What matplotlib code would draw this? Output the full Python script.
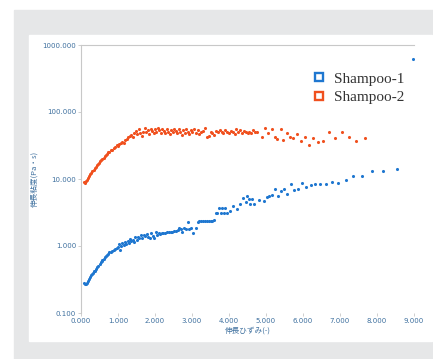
import numpy as np
import matplotlib.pyplot as plt
from matplotlib.patches import Rectangle
from matplotlib.lines import Line2D

# Shampoo-1 (blue)
s1_x = [0.08, 0.11, 0.14, 0.17, 0.20, 0.22, 0.25, 0.28, 0.30, 0.33, 0.36, 0.38, 0.41, 0.44,
        0.47, 0.50, 0.53, 0.56, 0.58, 0.61, 0.64, 0.67, 0.70, 0.73, 0.77, 0.80, 0.84, 0.88,
        0.92, 0.96, 1.00, 1.03, 1.05, 1.08, 1.12, 1.15, 1.19, 1.22, 1.26, 1.30, 1.33, 1.36,
        1.40, 1.43, 1.47, 1.50, 1.54, 1.58, 1.62, 1.66, 1.70, 1.74, 1.78, 1.82, 1.86, 1.90,
        1.94, 1.98, 2.02, 2.06, 2.10, 2.14, 2.18, 2.22, 2.27, 2.32, 2.37, 2.42, 2.47, 2.52,
        2.57, 2.62, 2.66, 2.70, 2.74, 2.78, 2.83, 2.88, 2.93, 2.98, 3.04, 3.10, 3.16, 3.20,
        3.25, 3.30, 3.35, 3.40, 3.45, 3.50, 3.55, 3.60, 3.64, 3.68, 3.72, 3.78, 3.80, 3.86,
        3.90, 3.95, 4.03, 4.12, 4.22, 4.30, 4.38, 4.45, 4.49, 4.53, 4.57, 4.62, 4.68, 4.81,
        4.95, 5.03, 5.08, 5.16, 5.24, 5.32, 5.41, 5.49, 5.57, 5.68, 5.76, 5.86, 5.97, 6.08,
        6.22, 6.32, 6.46, 6.62, 6.78, 6.95, 7.16, 7.35, 7.59, 7.86, 8.16, 8.54, 8.97]
s1_y = [0.28, 0.27, 0.27, 0.28, 0.30, 0.32, 0.34, 0.37, 0.38, 0.40, 0.42, 0.43, 0.46, 0.48,
        0.51, 0.53, 0.57, 0.60, 0.62, 0.64, 0.68, 0.70, 0.73, 0.76, 0.80, 0.82, 0.85, 0.87,
        0.90, 0.94, 0.98, 1.08, 0.86, 1.00, 1.12, 1.04, 1.16, 1.06, 1.18, 1.10, 1.28, 1.20,
        1.24, 1.14, 1.36, 1.25, 1.38, 1.30, 1.45, 1.32, 1.48, 1.42, 1.50, 1.38, 1.30, 1.55,
        1.42, 1.33, 1.60, 1.45, 1.58, 1.52, 1.55, 1.57, 1.58, 1.60, 1.62, 1.63, 1.64, 1.66,
        1.68, 1.72, 1.88, 1.78, 1.62, 1.85, 1.80, 2.30, 1.82, 1.86, 1.58, 1.88, 2.30, 2.34,
        2.35, 2.36, 2.36, 2.37, 2.37, 2.38, 2.40, 2.45, 3.10, 3.10, 3.70, 3.10, 3.70, 3.10,
        3.70, 3.10, 3.30, 3.90, 3.60, 4.20, 5.20, 4.60, 5.60, 5.00, 4.30, 5.00, 4.30, 4.80,
        4.70, 5.40, 5.60, 5.80, 7.10, 5.60, 6.60, 7.10, 6.00, 8.50, 6.80, 7.10, 8.70, 7.70,
        8.20, 8.50, 8.40, 8.40, 9.10, 8.70, 9.60, 11.0, 11.0, 13.2, 13.2, 14.2, 616.0]

# Shampoo-2 (orange)
s2_x = [0.08, 0.10, 0.13, 0.16, 0.19, 0.22, 0.25, 0.28, 0.31, 0.34, 0.37, 0.40, 0.43, 0.46,
        0.49, 0.52, 0.55, 0.58, 0.61, 0.64, 0.67, 0.70, 0.73, 0.76, 0.80, 0.84, 0.88, 0.92,
        0.96, 1.00, 1.04, 1.08, 1.12, 1.16, 1.20, 1.24, 1.28, 1.32, 1.36, 1.40, 1.44, 1.48,
        1.52, 1.56, 1.60, 1.64, 1.68, 1.72, 1.76, 1.80, 1.84, 1.88, 1.92, 1.96, 2.00, 2.04,
        2.08, 2.12, 2.16, 2.20, 2.24, 2.28, 2.32, 2.36, 2.40, 2.44, 2.48, 2.52, 2.56, 2.60,
        2.64, 2.68, 2.72, 2.76, 2.80, 2.84, 2.88, 2.92, 2.96, 3.00, 3.05, 3.10, 3.15, 3.20,
        3.25, 3.30, 3.35, 3.40, 3.45, 3.50, 3.55, 3.60, 3.65, 3.70, 3.75, 3.80, 3.85, 3.90,
        3.95, 4.00, 4.05, 4.10, 4.15, 4.20, 4.25, 4.30, 4.35, 4.40, 4.45, 4.50, 4.55, 4.60,
        4.65, 4.70, 4.76, 4.89, 4.97, 5.05, 5.16, 5.24, 5.30, 5.41, 5.46, 5.57, 5.65, 5.73,
        5.84, 5.95, 6.05, 6.16, 6.27, 6.41, 6.54, 6.70, 6.86, 7.05, 7.24, 7.43, 7.68]
s2_y = [9.0, 8.6, 9.4, 9.8, 10.5, 11.2, 11.8, 12.5, 13.0, 13.6, 14.5, 15.0, 16.0, 16.5,
        17.5, 18.5, 19.0, 20.0, 20.5, 22.0, 22.5, 24.0, 25.0, 25.5, 27.0, 27.5, 29.0, 30.0,
        32.0, 31.0, 33.0, 34.0, 36.0, 35.0, 38.0, 40.0, 42.0, 44.0, 46.0, 42.0, 48.0, 52.0,
        47.0, 55.0, 48.0, 44.0, 50.0, 58.0, 50.0, 54.0, 47.0, 56.0, 52.0, 48.0, 55.0, 51.0,
        57.0, 53.0, 49.0, 56.0, 52.0, 48.0, 55.0, 51.0, 47.0, 54.0, 50.0, 56.0, 52.0, 48.0,
        55.0, 51.0, 46.0, 53.0, 49.0, 56.0, 51.0, 47.0, 54.0, 50.0, 55.0, 49.0, 53.0, 47.0,
        51.0, 52.0, 58.0, 42.0, 44.0, 50.0, 48.0, 46.0, 52.0, 50.0, 53.0, 51.0, 49.0, 53.0,
        50.0, 48.0, 52.0, 51.0, 47.0, 55.0, 50.0, 53.0, 48.0, 52.0, 50.0, 49.0, 51.0, 49.0,
        53.0, 50.0, 51.0, 42.0, 58.0, 48.0, 56.0, 42.0, 39.0, 56.0, 38.0, 48.0, 42.0, 41.0,
        47.0, 37.0, 42.0, 32.0, 41.0, 36.0, 37.0, 50.0, 41.0, 50.0, 42.0, 37.0, 41.0]

labels = ['Shampoo-1', 'Shampoo-2']
colors = ['#1f77d0', '#f0501e']
x_ticks = [0, 1, 2, 3, 4, 5, 6, 7, 8, 9]
y_ticks = [0.1, 1, 10, 100, 1000]

tick_color = '#3d6f9e'
spine_color = '#c8c8c8'

fig = plt.figure(figsize=(4.33, 3.59), dpi=100)
W, H = 433, 359
# grey frame and white panel behind the chart
fig.patches.append(Rectangle((14 / W, 0), (433 - 14) / W, (359 - 10) / H,
                             transform=fig.transFigure, color='#e6e7e8', zorder=-2))
fig.patches.append(Rectangle((29 / W, 1 - 341 / H), (432 - 29) / W, (341 - 35) / H,
                             transform=fig.transFigure, color='white', zorder=-1))

ax = fig.add_axes([81 / W, 1 - 313 / H, (414 - 81) / W, (313 - 45) / H])
ax.patch.set_alpha(0)

ax.scatter(s1_x, s1_y, s=5, color=colors[0], linewidths=0, zorder=3)
ax.scatter(s2_x, s2_y, s=5, color=colors[1], linewidths=0, zorder=3)

ax.set_yscale('log')
ax.set_xlim(0, 9)
ax.set_ylim(0.1, 1000)
ax.set_xticks(x_ticks)
ax.set_xticklabels([f'{v:.3f}' for v in x_ticks])
ax.set_yticks(y_ticks)
ax.set_yticklabels([f'{v:.3f}' for v in y_ticks])
ax.minorticks_off()
ax.tick_params(labelsize=5, colors=spine_color, labelcolor=tick_color, length=2, width=0.6, pad=1.5)

for side in ['right', 'bottom']:
    ax.spines[side].set_visible(False)
for side in ['left', 'top']:
    ax.spines[side].set_color(spine_color)
    ax.spines[side].set_linewidth(0.8)

cjk = ['Noto Sans CJK JP', 'DejaVu Sans']
ax.set_xlabel('伸長ひずみ(-)', fontsize=5.5, color=tick_color, family=cjk, labelpad=2)
ax.set_ylabel('伸長粘度(Pa・s)', fontsize=5.5, color=tick_color, family=cjk, labelpad=3)

handles = [Line2D([], [], linestyle='none', marker='s', markersize=5.5,
                  markerfacecolor='white', markeredgecolor=c, markeredgewidth=1.7)
           for c in colors]
ax.legend(handles, labels, loc='center left', bbox_to_anchor=(0.655, 0.84),
          frameon=False, prop={'family': 'Liberation Serif', 'size': 11},
          handlelength=0.8, handletextpad=0.6, labelspacing=0.3, labelcolor='#333333')

fig.savefig('out.png', dpi=100)
